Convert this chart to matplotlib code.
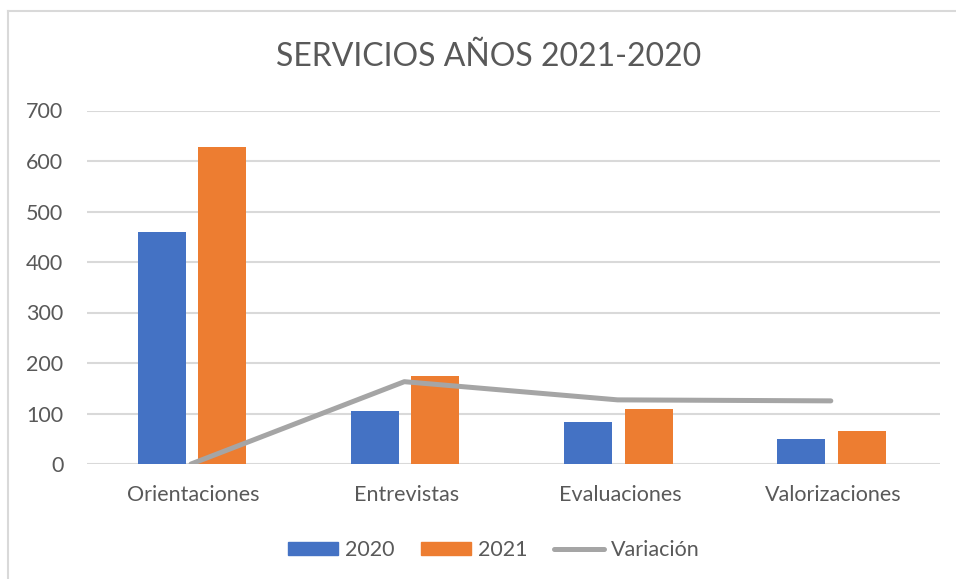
import matplotlib
matplotlib.use("Agg")
import matplotlib.pyplot as plt
from matplotlib.lines import Line2D
from matplotlib.patches import Patch
import numpy as np

categories = ["Orientaciones", "Entrevistas", "Evaluaciones", "Valorizaciones"]
values_2020 = [460, 105, 83, 50]
values_2021 = [628, 174, 108, 65]
variacion = [0, 163, 127, 125]
y_ticks = [0, 100, 200, 300, 400, 500, 600, 700]
title = "SERVICIOS AÑOS 2021-2020"

plt.rcParams['font.family'] = ['Lato', 'DejaVu Sans']
TXT = "#595959"
BLUE = "#4472C4"
ORANGE = "#ED7D31"
GRAY = "#A5A5A5"
GRID = "#D9D9D9"

fig = plt.figure(figsize=(9.56, 5.79), dpi=100)
ax = fig.add_axes([87/956, 1-464/579, (940-87)/956, (464-110.5)/579])

x = np.arange(len(categories))
w = 0.225
off = 0.142
ax.bar(x - off - 0.008, values_2020, w, color=BLUE, label="2020", zorder=3)
ax.bar(x + off - 0.008, values_2021, w, color=ORANGE, label="2021", zorder=3)
ax.plot(x - 0.012, variacion, color=GRAY, lw=3.6, solid_capstyle='round',
        solid_joinstyle='round', label="Variación", zorder=4)

ax.set_xlim(-0.5, len(categories) - 0.5)
ax.set_ylim(0, 700)
ax.set_yticks(y_ticks)
ax.set_xticks(x)
ax.set_xticklabels(categories)
ax.yaxis.grid(True, color=GRID, lw=1.5, zorder=0)
ax.set_axisbelow(True)
for s in ax.spines.values():
    s.set_visible(False)
ax.tick_params(axis='both', length=0, colors=TXT, labelsize=15.5)
ax.tick_params(axis='x', pad=15)
ax.tick_params(axis='y', pad=17)

fig.text(489/956, 1-57/579, title, ha='center', va='center', fontsize=23, color=TXT)

handles = [Patch(color=BLUE, label="2020"), Patch(color=ORANGE, label="2021"),
           Line2D([0], [0], color=GRAY, lw=3.6, solid_capstyle='round', label="Variación")]
leg = fig.legend(handles=handles, loc='center', bbox_to_anchor=(494/956, 1-550/579),
                 ncol=3, frameon=False, fontsize=15.5, handlelength=2.3, handleheight=0.55,
                 handletextpad=0.33, columnspacing=1.25)
for t in leg.get_texts():
    t.set_color(TXT)

# chart border (left and top visible)
fig.add_artist(Line2D([8/956, 8/956], [0, 1-11/579], color=GRID, lw=1.5, transform=fig.transFigure))
fig.add_artist(Line2D([8/956, 1], [1-11/579, 1-11/579], color=GRID, lw=1.5, transform=fig.transFigure))

fig.savefig("out.png", dpi=100)
